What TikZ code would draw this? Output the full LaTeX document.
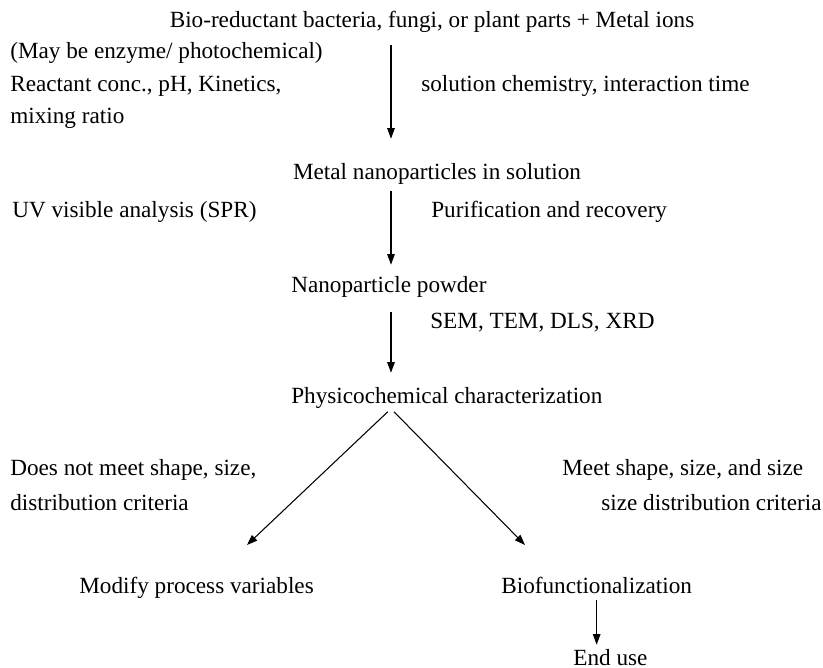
\documentclass[tikz,border=0pt]{standalone}
\usepackage{fontspec}
\setmainfont{Liberation Serif}
\usetikzlibrary{arrows.meta}

\tikzset{
  txt/.style={inner sep=0pt, text height=9pt, text depth=2.8pt, font=\fontsize{13.2}{16}\selectfont},
  ltxt/.style={txt, anchor=west},
  arr/.style={-{Triangle[length=2.1mm,width=1.5mm]}, line width=0.6pt}
}

\begin{document}
\begin{tikzpicture}[x=0.02cm, y=-0.02cm]
\useasboundingbox (0,0) rectangle (823,668);

% Основная цепочка
\node[txt] (src) at (432,22) {Bio-reductant bacteria, fungi, or plant parts + Metal ions};
\node[txt] (metal) at (437,174) {Metal nanoparticles in solution};
\node[ltxt] (powder) at (291,287) {Nanoparticle powder};
\node[ltxt] (physico) at (291,398) {Physicochemical characterization};
\coordinate (axis) at (391,0);

% Условия слева и справа
\node[ltxt] (enzyme) at (10,53) {(May be enzyme/ photochemical)};
\node[ltxt] (reactant) at (10,86) {Reactant conc., pH, Kinetics,};
\node[ltxt] (mixing) at (10,118) {mixing ratio};
\node[ltxt] (solchem) at (421,86) {solution chemistry, interaction time};
\node[ltxt] (uv) at (12,212) {UV visible analysis (SPR)};
\node[ltxt] (purif) at (431,212) {Purification and recovery};
\node[ltxt] (sem) at (430,323) {SEM, TEM, DLS, XRD};

% Стрелки вниз
\draw[arr, shorten <=7pt, shorten >=14pt] (src.south -| axis) -- (metal.north -| axis);
\draw[arr, shorten <=3.8pt, shorten >=6.6pt] (metal.south -| axis) -- (powder.north -| axis);
\draw[arr, shorten <=8.3pt, shorten >=8.3pt] (powder.south -| axis) -- (physico.north -| axis);

% Развилка
\node[ltxt] (nomeet1) at (10,470) {Does not meet shape, size,};
\node[ltxt] (nomeet2) at (10,505) {distribution criteria};
\node[ltxt] (meet1) at (562,470) {Meet shape, size, and size};
\node[ltxt] (meet2) at (601,505) {size distribution criteria};
\node[ltxt] (modify) at (79,588) {Modify process variables};
\node[ltxt] (biofunc) at (501,588) {Biofunctionalization};
\node[ltxt] (enduse) at (573,660) {End use};
\coordinate (ltip) at (247,545);
\coordinate (rtip) at (525,545);

\draw[arr, shorten <=2.5pt] (physico.south -| axis) -- (ltip);
\draw[arr, shorten <=2.5pt] (physico.south -| axis) -- (rtip);
\draw[arr, shorten <=1pt, shorten >=2.6pt] (biofunc.south) -- (biofunc.south |- enduse.north);

\end{tikzpicture}
\end{document}
